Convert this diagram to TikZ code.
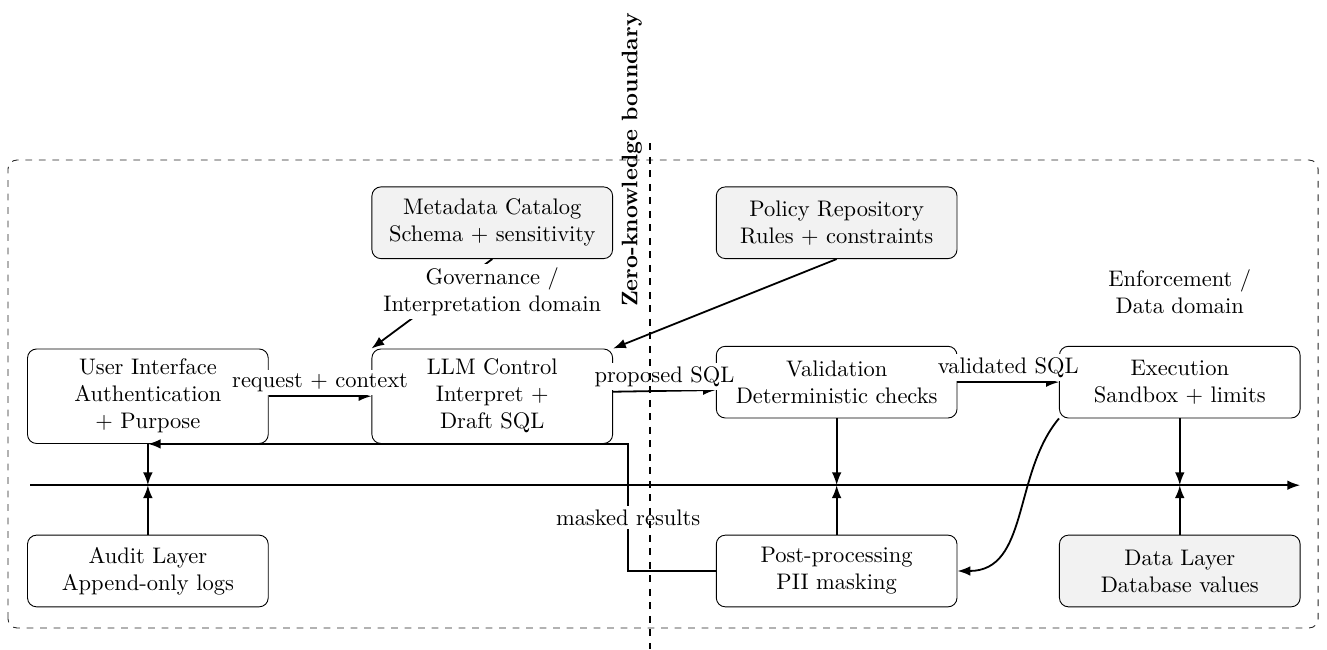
\documentclass[tikz,border=0pt]{standalone}
\usetikzlibrary{arrows.meta}

\tikzset{
  box/.style={draw, rounded corners, minimum width=3.76cm, minimum height=1.12cm,
    text width=3.3cm, align=center, inner ysep=4.5pt, fill=white},
  grbox/.style={box, fill=gray!10},
  conn/.style={->, thick},
  lbl/.style={fill=white, inner sep=1.5pt},
}

\begin{document}
\begin{tikzpicture}[>={Latex[length=2mm,width=1.5mm]}]

\useasboundingbox (0,-2.56) rectangle (20.73,7.58);

\def\xa{2.31}
\def\xb{7.69}
\def\xc{13.07}
\def\xd{18.43}

%=== outer frame ===
\draw[black!85, dashed, rounded corners] (0.125,-2.23) rectangle (20.59,5.08);

%=== nodes ===
\node[grbox] (meta) at (\xb,4.10) {Metadata Catalog\\Schema + sensitivity};
\node[grbox] (pol)  at (\xc,4.10) {Policy Repository\\Rules + constraints};

\node[box] (ui)   at (\xa,1.39) {User Interface\\Authentication + Purpose};
\node[box] (llm)  at (\xb,1.39) {LLM Control\\Interpret + Draft SQL};
\node[box] (val)  at (\xc,1.61) {Validation\\Deterministic checks};
\node[box] (exec) at (\xd,1.61) {Execution\\Sandbox + limits};

\node[box]   (audit) at (\xa,-1.34) {Audit Layer\\Append-only logs};
\node[box]   (post)  at (\xc,-1.34) {Post-processing\\PII masking};
\node[grbox] (data)  at (\xd,-1.34) {Data Layer\\Database values};

%=== timeline ===
\coordinate (tl0) at (0.47,0);
\coordinate (tl1) at (20.31,0);
\draw[conn] (tl0) -- (tl1);

\foreach \n in {ui,val,exec}
  \draw[conn] (\n.south) -- (\n.south |- tl0);
\foreach \n in {audit,post,data}
  \draw[conn] (\n.north) -- (\n.north |- tl0);

%=== flows ===
\draw[conn] (meta.south) -- (llm.north west);
\draw[conn] (pol.south) -- (llm.north east);
\draw[conn] (ui.east) -- node[above, lbl]{request + context} (llm.west);
\draw[conn] ([yshift=2pt]llm.east) -- node[above, lbl]{proposed SQL} ([yshift=-3.5pt]val.west);
\draw[conn] (val.east) -- node[above, lbl]{validated SQL} (exec.west);
\draw[conn] (exec.south west) to[out=230, in=0] (post.east);
\draw[conn] (post.west) -- ++(-1.37,0) |- node[pos=0.21, lbl]{masked results} (ui.south);

% domains
\node[lbl, align=center] (gov) at (\xb,3.03) {Governance /\\Interpretation domain};
\node[lbl, align=center] (enf) at (\xd,3.03) {Enforcement /\\Data domain};

%=== zero-knowledge boundary ===
\coordinate (zkt) at (10.15,5.34);
\coordinate (zkb) at (10.15,-2.56);
\draw[dashed, thick] (zkt) -- (zkb);
\node[rotate=90, anchor=south, font=\bfseries] (zk) at (10.15,5.08) {Zero-knowledge boundary};

\end{tikzpicture}
\end{document}
